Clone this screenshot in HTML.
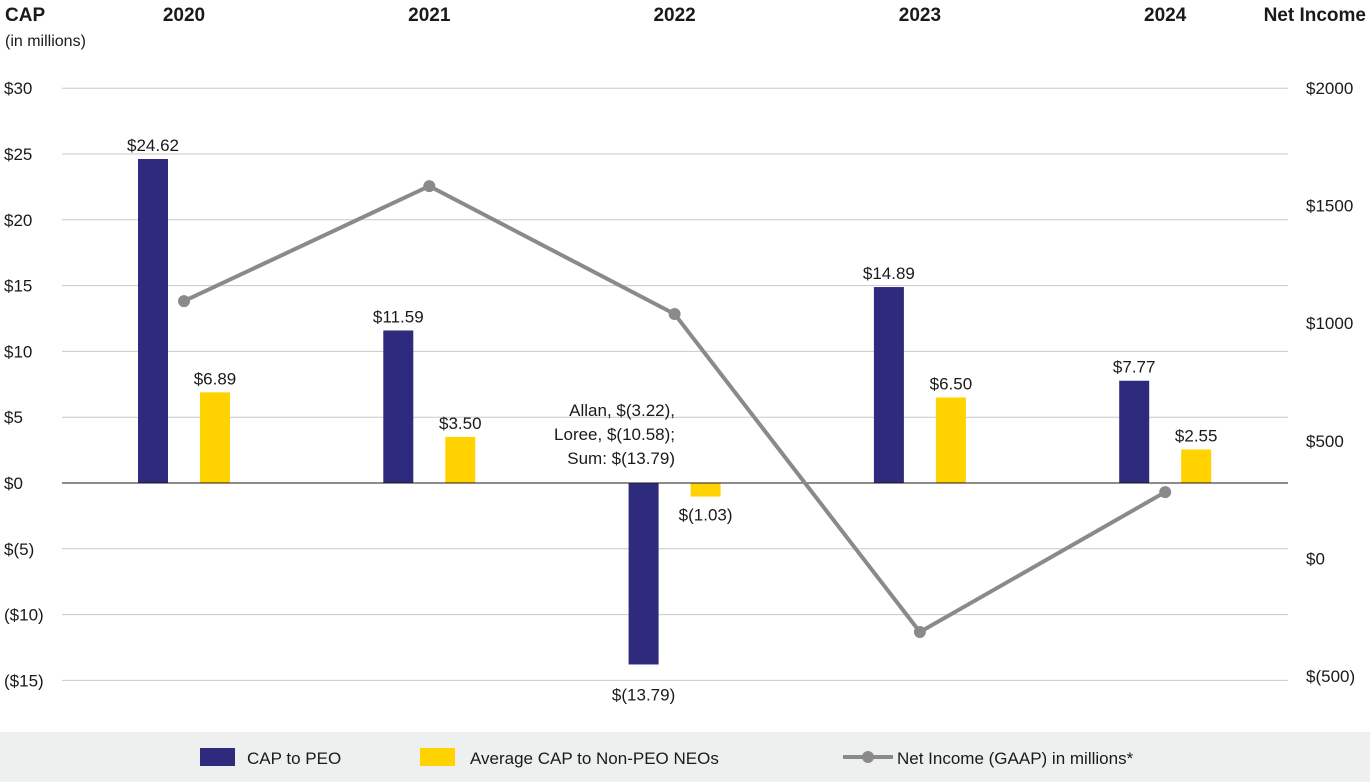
<!DOCTYPE html>
<html><head><meta charset="utf-8"><style>
body{margin:0;background:#fff;font-family:"Liberation Sans",sans-serif}
svg{display:block}
text{font-family:"Liberation Sans",sans-serif;fill:#1a1a1a}
</style></head><body>
<svg id="chart" width="1370" height="782" viewBox="0 0 1370 782"></svg>
<script>
const years=["2020","2021","2022","2023","2024"];
const capPeo=[24.62,11.59,-13.79,14.89,7.77];
const capNeo=[6.89,3.50,-1.03,6.50,2.55];
const netIncome=[1094,1583,1039,-313,282];
const leftTicks=[30,25,20,15,10,5,0,-5,-10,-15];
const leftTickLabels=["$30","$25","$20","$15","$10","$5","$0","$(5)","($10)","($15)"];
const rightTicks=[2000,1500,1000,500,0,-500];
const rightTickLabels=["$2000","$1500","$1000","$500","$0","$(500)"];
const peoLabels=["$24.62","$11.59","$(13.79)","$14.89","$7.77"];
const neoLabels=["$6.89","$3.50","$(1.03)","$6.50","$2.55"];

const NS="http://www.w3.org/2000/svg",svg=document.getElementById('chart');
function yL(v){return 483-v*13.16;}
function yR(v){return 88+(2000-v)*0.2352;}
function xC(i){return 184+i*245.3;}
function mk(t,a,name,txt){const e=document.createElementNS(NS,t);for(const k in a)e.setAttribute(k,a[k]);


if(txt!==undefined)e.textContent=txt;svg.appendChild(e);return e;}

leftTicks.forEach((v,i)=>{
 if(v!==0)mk('line',{x1:62,x2:1288,y1:yL(v),y2:yL(v),stroke:'#c8c8c8','stroke-width':1},'gridline');
 mk('text',{x:4,y:yL(v)+6,'font-size':17},'left-tick-label',leftTickLabels[i]);
});
rightTicks.forEach((v,i)=>{mk('text',{x:1306,y:yR(v)+6,'font-size':17},'right-tick-label',rightTickLabels[i]);});
mk('text',{x:5,y:21,'font-size':19,'font-weight':'bold'},'left-axis-title','CAP');
mk('text',{x:5,y:46,'font-size':16},'left-axis-subtitle','(in millions)');
mk('text',{x:1366,y:21,'font-size':19,'font-weight':'bold','text-anchor':'end'},'right-axis-title','Net Income');
years.forEach((y,i)=>mk('text',{x:xC(i),y:21,'font-size':19,'font-weight':'bold','text-anchor':'middle'},'year-label',y));

years.forEach((y,i)=>{
 const xp=xC(i)-31,xn=xC(i)+31;
 const v=capPeo[i],n=capNeo[i];
 mk('rect',{x:xp-15,y:Math.min(yL(v),yL(0)),width:30,height:Math.abs(yL(v)-yL(0)),fill:'#2e2a7d'},'bar-cap-peo-'+y);
 mk('rect',{x:xn-15,y:Math.min(yL(n),yL(0)),width:30,height:Math.abs(yL(n)-yL(0)),fill:'#ffd200'},'bar-cap-neo-'+y);
 mk('text',{x:xp,y:v>=0?yL(v)-8:yL(v)+36,'font-size':17,'text-anchor':'middle'},'value-label-peo',peoLabels[i]);
 mk('text',{x:xn,y:n>=0?yL(n)-8:yL(n)+24,'font-size':17,'text-anchor':'middle'},'value-label-neo',neoLabels[i]);
});
mk('line',{x1:62,x2:1288,y1:yL(0),y2:yL(0),stroke:'#1a1a1a','stroke-width':1},'zero-line');

let pts=netIncome.map((v,i)=>xC(i)+','+yR(v)).join(' ');
mk('polyline',{points:pts,fill:'none',stroke:'#8a8a8a','stroke-width':4},'net-income-line');
netIncome.forEach((v,i)=>mk('circle',{cx:xC(i),cy:yR(v),r:6,fill:'#8a8a8a'},'net-income-point'));

['Allan, $(3.22),','Loree, $(10.58);','Sum: $(13.79)'].forEach((t,k)=>mk('text',{x:675,y:416+k*24,'font-size':17,'text-anchor':'end'},'annotation-2022',t));

mk('rect',{x:0,y:732,width:1370,height:50,fill:'#eef0f0'},'legend-band');
mk('rect',{x:200,y:748,width:35,height:18,fill:'#2e2a7d'},'legend-swatch-peo');
mk('text',{x:247,y:764,'font-size':17},'legend-label-peo','CAP to PEO');
mk('rect',{x:420,y:748,width:35,height:18,fill:'#ffd200'},'legend-swatch-neo');
mk('text',{x:470,y:764,'font-size':17},'legend-label-neo','Average CAP to Non-PEO NEOs');
mk('line',{x1:843,x2:893,y1:757,y2:757,stroke:'#8a8a8a','stroke-width':4},'legend-swatch-line');
mk('circle',{cx:868,cy:757,r:6,fill:'#8a8a8a'},'legend-swatch-dot');
mk('text',{x:897,y:764,'font-size':17},'legend-label-net-income','Net Income (GAAP) in millions*');
</script>
</body></html>
